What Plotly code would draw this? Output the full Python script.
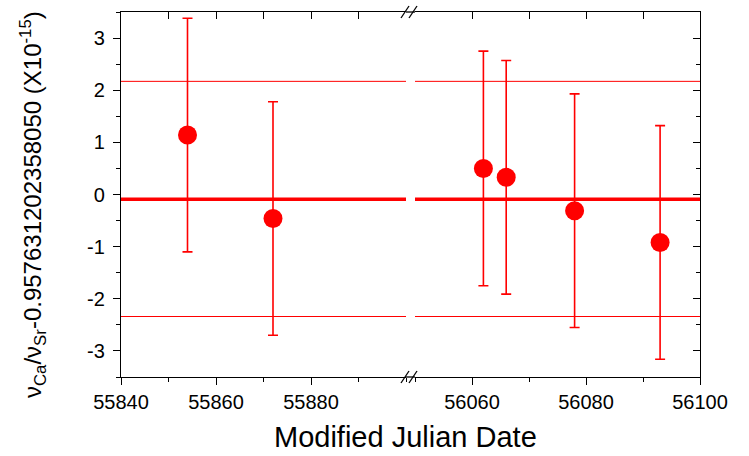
import plotly.graph_objects as go

# ---- data ----
mjd_left = [55854, 55872]
val_left = [1.14, -0.46]
err_left = [2.24, 2.24]

mjd_right = [56062, 56066, 56078, 56093]
val_right = [0.50, 0.33, -0.31, -0.92]
err_right = [2.25, 2.24, 2.24, 2.24]

mean_value = -0.09
band_upper = 2.17
band_lower = -2.34

left_range = [55840, 55900]
right_range = [56050, 56100]
y_range = [-3.5, 3.5]
left_ticks = [55840, 55860, 55880]
right_ticks = [56060, 56080, 56100]
y_ticks = [-3, -2, -1, 0, 1, 2, 3]
y_ticklabels = ["-3", "-2", "-1", "0", "1", "2", "3"]

RED = "#FF0000"
FONT = "Liberation Sans, Arial, sans-serif"

W, H = 749, 456
ML, MR, MT, MB = 121, 49, 12, 79
PW = W - ML - MR
PH = H - MT - MB
gap_l = (406 - ML) / PW
gap_r = (415 - ML) / PW

fig = go.Figure()

err_style = dict(type="data", color=RED, thickness=1.6, width=5)
fig.add_trace(go.Scatter(
    x=mjd_left, y=val_left, mode="markers", xaxis="x", yaxis="y",
    marker=dict(color=RED, size=19),
    error_y=dict(array=err_left, **err_style), showlegend=False))
fig.add_trace(go.Scatter(
    x=mjd_right, y=val_right, mode="markers", xaxis="x2", yaxis="y",
    marker=dict(color=RED, size=19),
    error_y=dict(array=err_right, **err_style), showlegend=False))
# empty traces to register mirrored axes
fig.add_trace(go.Scatter(x=[], y=[], xaxis="x3", yaxis="y", showlegend=False))
fig.add_trace(go.Scatter(x=[], y=[], xaxis="x4", yaxis="y2", showlegend=False))

tickfont = dict(family=FONT, size=20, color="black")
common_x = dict(showline=True, linecolor="black", linewidth=1.3, showgrid=False,
                zeroline=False, tickcolor="black", tickwidth=1.3)

fig.update_layout(
    width=W, height=H,
    margin=dict(l=ML, r=MR, t=MT, b=MB),
    paper_bgcolor="white", plot_bgcolor="white",
    xaxis=dict(domain=[0, gap_l], range=left_range, anchor="y",
               tickvals=left_ticks, ticktext=[str(v) for v in left_ticks],
               ticks="outside", ticklen=7,
               minor=dict(dtick=10, tick0=55840, ticks="outside", ticklen=4,
                          tickcolor="black", tickwidth=1.3),
               tickfont=tickfont, **common_x),
    xaxis2=dict(domain=[gap_r, 1], range=right_range, anchor="y",
                tickvals=right_ticks, ticktext=[str(v) for v in right_ticks],
                ticks="outside", ticklen=7,
                minor=dict(dtick=10, tick0=56050, ticks="outside", ticklen=4,
                           tickcolor="black", tickwidth=1.3),
                tickfont=tickfont, **common_x),
    xaxis3=dict(overlaying="x", side="top", anchor="y", range=left_range,
                tickvals=left_ticks, ticks="inside", ticklen=7,
                showticklabels=False,
                minor=dict(dtick=10, tick0=55840, ticks="inside", ticklen=7,
                           tickcolor="black", tickwidth=1.3),
                **common_x),
    xaxis4=dict(overlaying="x2", side="top", anchor="y2", range=right_range,
                tickvals=right_ticks, ticks="inside", ticklen=7,
                showticklabels=False,
                minor=dict(dtick=10, tick0=56050, ticks="inside", ticklen=7,
                           tickcolor="black", tickwidth=1.3),
                **common_x),
    yaxis=dict(range=y_range, anchor="x", tickvals=y_ticks,
               ticktext=y_ticklabels, ticks="outside",
               ticklen=7, ticklabelstandoff=4,
               minor=dict(dtick=0.5, tick0=-3.5, ticks="outside", ticklen=4,
                          tickcolor="black", tickwidth=1.3),
               tickfont=tickfont, **common_x),
    yaxis2=dict(range=y_range, anchor="x2", overlaying="y", side="right",
                tickvals=y_ticks, ticks="inside", ticklen=7,
                showticklabels=False,
                minor=dict(dtick=0.5, tick0=-3.5, ticks="inside", ticklen=4,
                           tickcolor="black", tickwidth=1.3),
                **common_x),
)

# mean and band lines in each panel
for xr in ["x domain", "x2 domain"]:
    fig.add_shape(type="line", xref=xr, yref="y", x0=0, x1=1,
                  y0=mean_value, y1=mean_value, line=dict(color=RED, width=3.5))
    for yv in (band_upper, band_lower):
        fig.add_shape(type="line", xref=xr, yref="y", x0=0, x1=1,
                      y0=yv, y1=yv, line=dict(color=RED, width=1))

# axis line across the break gap and // marks
for yp in (0, 1):
    fig.add_shape(type="line", xref="paper", yref="paper", x0=gap_l, x1=gap_r,
                  y0=yp, y1=yp, line=dict(color="black", width=1.3))
    for cx in (405, 413):
        fx0 = (cx - 4 - ML) / PW
        fx1 = (cx + 4 - ML) / PW
        dy = 6 / PH
        fig.add_shape(type="line", xref="paper", yref="paper",
                      x0=fx0, x1=fx1, y0=yp - dy, y1=yp + dy,
                      line=dict(color="black", width=1.3))

fig.add_annotation(text="Modified Julian Date", xref="paper", yref="paper",
                   x=(405 - ML) / PW, y=-(437 - (MT + PH)) / PH,
                   xanchor="center", yanchor="middle", showarrow=False,
                   font=dict(family=FONT, size=29, color="black"))
fig.add_annotation(
    text="ν<sub>Ca</sub>/ν<sub>Sr</sub>-0.957631202358050 (X10<sup>-15</sup>)",
    xref="paper", yref="paper", x=(33 - ML) / PW, y=((MT + PH) - 205) / PH,
    xanchor="center", yanchor="middle", textangle=-90, showarrow=False,
    font=dict(family=FONT, size=24, color="black"))

fig.write_html("out.html")
